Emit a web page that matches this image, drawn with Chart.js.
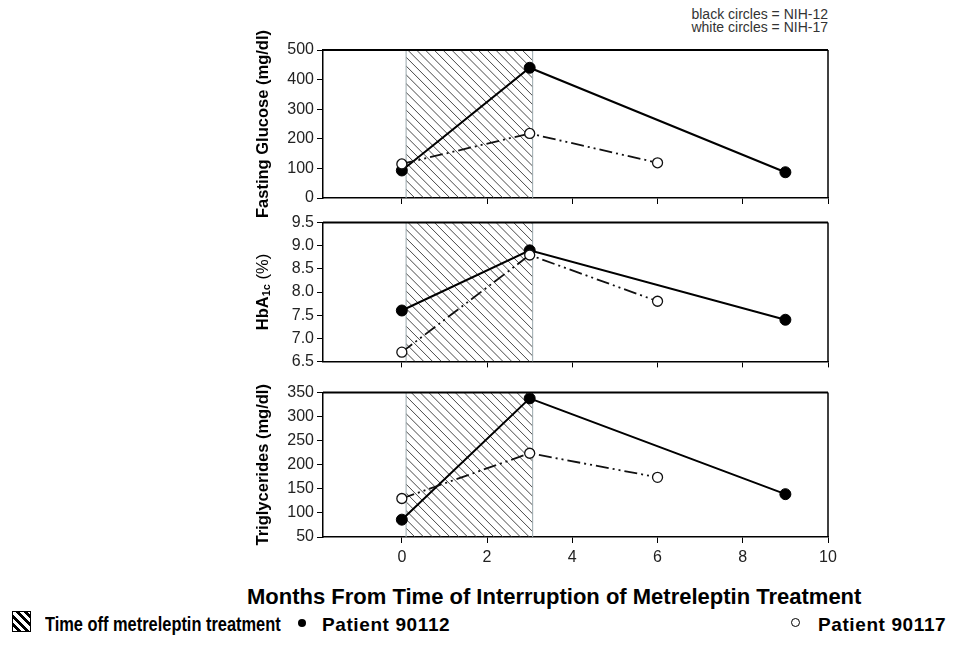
<!DOCTYPE html>
<html>
<head>
<meta charset="utf-8">
<script src="https://cdn.jsdelivr.net/npm/chart.js@4.4.1/dist/chart.umd.min.js"></script>
<style>
  body { margin: 0; background: #fff; width: 971px; height: 657px; position: relative; overflow: hidden;
         font-family: "Liberation Sans", Arial, sans-serif; }
  canvas { position: absolute; }
  .txt { position: absolute; white-space: nowrap; color: #000; }
  .leg { font-size: 19px; line-height: 19px; font-weight: bold; }
  .hatch { position: absolute; width: 17px; height: 19px; border: 1.5px solid #000;
           background: repeating-linear-gradient(45deg, #fff 0 3px, #000 3px 6px); }
</style>
</head>
<body>
<div class="txt" style="right:143px; top:8px; text-align:right; font-size:14px; line-height:13px; color:#333;">black circles = NIH-12<br>white circles = NIH-17</div>

<canvas id="c1" width="620" height="230" style="left:230px; top:0px"></canvas>
<canvas id="c2" width="620" height="164" style="left:230px; top:210px"></canvas>
<canvas id="c3" width="620" height="189" style="left:230px; top:380px"></canvas>

<div class="txt" style="left:247px; top:586px; font-size:22px; line-height:22px; font-weight:bold;">Months From Time of Interruption of Metreleptin Treatment</div>

<div class="hatch" style="left:12px; top:611px"></div>
<div class="txt leg" style="left:45px; top:614px; font-size:20px; line-height:20px; transform:scaleX(0.82); transform-origin:0 0;">Time off metreleptin treatment</div>
<div class="txt" style="left:298px; top:619px; width:8px; height:8px; border-radius:50%; background:#000;"></div>
<div class="txt leg" style="left:322px; top:615px; letter-spacing:0.6px;">Patient 90112</div>
<div class="txt" style="left:791px; top:618px; width:7px; height:7px; border-radius:50%; border:1px solid #000; background:#fff;"></div>
<div class="txt leg" style="left:818px; top:615px; letter-spacing:0.6px;">Patient 90117</div>

<script>
// données (A = patient 90112 / NIH-12, B = patient 90117 / NIH-17)
const monthsA = [0, 3, 9];
const monthsB = [0, 3, 6];
const glucoseA = [93, 440, 87];
const glucoseB = [115, 218, 119];
const hba1cA = [7.6, 8.9, 7.4];
const hba1cB = [6.7, 8.8, 7.8];
const trigA = [86, 338, 139];
const trigB = [130, 224, 174];

const xTicks = [0, 2, 4, 6, 8, 10];
const glucoseTicks = [0, 100, 200, 300, 400, 500];
const hba1cTicks = [6.5, 7.0, 7.5, 8.0, 8.5, 9.0, 9.5];
const trigTicks = [50, 100, 150, 200, 250, 300, 350];
const offPeriod = [0.1, 3.07]; // période sans metreleptin (hachurée)

function pts(xs, ys) {
    return xs.map((x, i) => ({ x: x, y: ys[i] }));
}

// zone hachurée + bord du cadre
const hatchPlugin = {
    id: 'hatch',
    beforeDatasetsDraw(chart) {
        const { ctx, chartArea: a, scales: { x } } = chart;
        const x0 = x.getPixelForValue(offPeriod[0]);
        const x1 = x.getPixelForValue(offPeriod[1]);
        const h = a.bottom - a.top;
        ctx.save();
        ctx.beginPath();
        ctx.rect(x0, a.top, x1 - x0, h);
        ctx.clip();
        ctx.strokeStyle = '#333';
        ctx.lineWidth = 0.9;
        ctx.beginPath();
        for (let k = x0 - h; k < x1; k += 8.8) {
            ctx.moveTo(k, a.top);
            ctx.lineTo(k + h, a.bottom);
        }
        ctx.stroke();
        ctx.restore();
        ctx.save();
        ctx.strokeStyle = '#9aa8ad';
        ctx.lineWidth = 1;
        ctx.beginPath();
        ctx.moveTo(x0, a.top); ctx.lineTo(x0, a.bottom);
        ctx.moveTo(x1, a.top); ctx.lineTo(x1, a.bottom);
        ctx.stroke();
        ctx.restore();
    },
    afterDraw(chart) {
        const { ctx, chartArea: a } = chart;
        ctx.save();
        ctx.strokeStyle = '#000';
        ctx.lineWidth = 2;
        ctx.beginPath();
        ctx.moveTo(a.left, a.top); ctx.lineTo(a.right, a.top);
        ctx.stroke();
        ctx.lineWidth = 1.5;
        ctx.beginPath();
        ctx.moveTo(a.right, a.top); ctx.lineTo(a.right, a.bottom);
        ctx.stroke();
        ctx.restore();
    }
};

// titre vertical de l'axe y (permet l'indice de HbA1c)
const yTitlePlugin = {
    id: 'yTitle',
    afterDraw(chart, args, opts) {
        const { ctx, chartArea: a } = chart;
        const parts = opts.parts;
        ctx.save();
        ctx.translate(33, (a.top + a.bottom) / 2);
        ctx.rotate(-Math.PI / 2);
        ctx.fillStyle = '#000';
        ctx.textBaseline = 'middle';
        let total = 0;
        parts.forEach(p => { ctx.font = p.font; total += ctx.measureText(p.text).width; });
        let cx = -total / 2;
        parts.forEach(p => {
            ctx.font = p.font;
            ctx.fillText(p.text, cx, p.dy || 0);
            cx += ctx.measureText(p.text).width;
        });
        ctx.restore();
    }
};

const tickFont = { family: '"Liberation Sans", Arial, sans-serif', size: 16 };
const titleFont = 'bold 16.5px "Liberation Sans", Arial, sans-serif';

function makePanel(id, yA, yB, yTicks, digits, parts, showX, padTop, padBottom) {
    return new Chart(document.getElementById(id), {
        type: 'line',
        data: {
            datasets: [
                {
                    label: 'Patient 90117',
                    data: pts(monthsB, yB),
                    borderColor: '#111',
                    borderWidth: 1.8,
                    borderDash: [13, 4, 2, 4, 2, 4],
                    pointRadius: 5,
                    pointBackgroundColor: '#fff',
                    pointBorderColor: '#111',
                    pointBorderWidth: 1.3,
                    tension: 0
                },
                {
                    label: 'Patient 90112',
                    data: pts(monthsA, yA),
                    borderColor: '#000',
                    borderWidth: 2,
                    pointRadius: 5.5,
                    pointBackgroundColor: '#000',
                    pointBorderColor: '#000',
                    pointBorderWidth: 1,
                    tension: 0
                }
            ]
        },
        options: {
            responsive: false,
            animation: false,
            layout: { padding: { top: padTop, right: 22, left: 0, bottom: padBottom } },
            plugins: {
                legend: { display: false },
                tooltip: { enabled: false },
                yTitle: { parts: parts }
            },
            scales: {
                x: {
                    type: 'linear',
                    min: -1.85,
                    max: 10,
                    afterBuildTicks: s => { s.ticks = xTicks.map(v => ({ value: v })); },
                    afterFit: s => { s.height = showX ? 32 : 8; },
                    grid: { drawOnChartArea: false, drawTicks: true, tickLength: 6, color: '#000' },
                    border: { display: true, color: '#000', width: 1.5 },
                    ticks: { display: showX, font: tickFont, color: '#222', padding: 5, maxRotation: 0 }
                },
                y: {
                    min: yTicks[0],
                    max: yTicks[yTicks.length - 1],
                    afterBuildTicks: s => { s.ticks = yTicks.map(v => ({ value: v })); },
                    afterFit: s => { s.width = 93; },
                    grid: { drawOnChartArea: false, drawTicks: true, tickLength: 6, color: '#000' },
                    border: { display: true, color: '#000', width: 1.5 },
                    ticks: {
                        font: tickFont, color: '#222', padding: 3,
                        callback: v => v.toFixed(digits)
                    }
                }
            }
        },
        plugins: [hatchPlugin, yTitlePlugin]
    });
}

makePanel('c1', glucoseA, glucoseB, glucoseTicks, 0,
    [{ text: 'Fasting Glucose (mg/dl)', font: titleFont }], false, 50, 24);

makePanel('c2', hba1cA, hba1cB, hba1cTicks, 1,
    [
        { text: 'HbA', font: titleFont },
        { text: '1c', font: 'bold 11px "Liberation Sans", Arial, sans-serif', dy: 4 },
        { text: ' (%)', font: '16.5px "Liberation Sans", Arial, sans-serif' }
    ], false, 10, 0);

makePanel('c3', trigA, trigB, trigTicks, 0,
    [{ text: 'Triglycerides (mg/dl)', font: titleFont }], true, 10, 0);
</script>
</body>
</html>
